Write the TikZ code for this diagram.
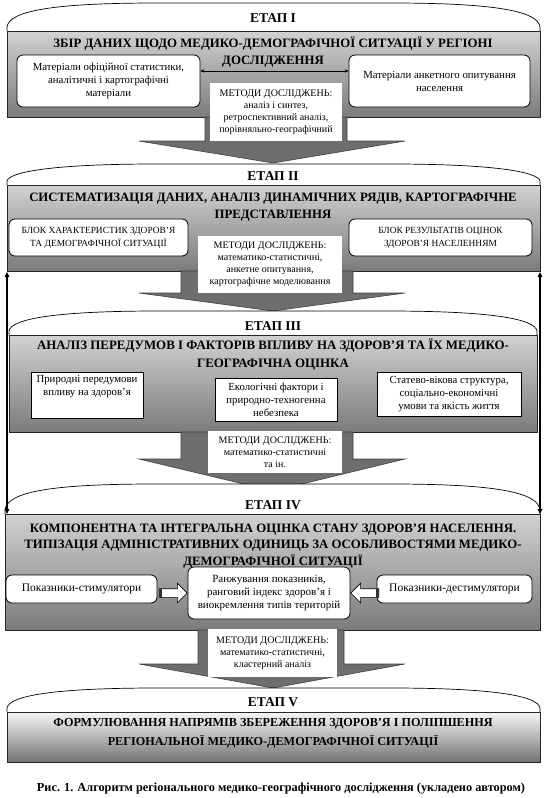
\documentclass[tikz,border=0pt]{standalone}
\usepackage{fontspec}
\setmainfont{Liberation Serif}
\usetikzlibrary{arrows.meta,shapes.arrows,calc}
\newcommand{\drawarch}[4]{\draw[archline] (#1,#4) -- (#1,#4-4) .. controls (#1+2,#3+8) and (#1+45,#3) .. (#1+150,#3) -- (#2-150,#3) .. controls (#2-45,#3) and (#2-2,#3+8) .. (#2,#4-4) -- (#2,#4);}
\begin{document}
\begin{tikzpicture}[x=1pt,y=-1pt, font=\rmfamily,
  archline/.style={draw=black, line width=0.7pt, fill=white},
  stagebox/.style={draw=black!85, line width=1pt, top color=black!18, bottom color=black!52, inner sep=0pt},
  etap/.style={font=\rmfamily\bfseries\fontsize{13.5}{14}\selectfont, inner sep=0pt},
  titletext/.style={font=\rmfamily\bfseries\fontsize{12.8}{17}\selectfont, align=center, inner sep=0pt},
  rbox/.style={draw=black, line width=0.8pt, fill=white, rounded corners=6pt, align=center, font=\rmfamily\fontsize{10.8}{13}\selectfont, inner sep=0pt},
  sbox/.style={draw=black, line width=0.6pt, fill=white, align=center, font=\rmfamily\fontsize{10.8}{13}\selectfont, inner sep=0pt},
  methbox/.style={fill=white, align=center, inner sep=0pt, font=\rmfamily\fontsize{10}{12}\selectfont},
  bigarrow/.style={fill=black!57, draw=black!75, line width=0.6pt},
  sidearrow/.style={draw=black, line width=1.2pt, {Triangle[length=5pt,width=4.5pt]}-{Triangle[length=5pt,width=4.5pt]}},
  thinarrow/.style={draw=black, line width=0.6pt, {Stealth[length=4pt,width=3.5pt]}-{Stealth[length=4pt,width=3.5pt]}},
  blockarrow/.style={single arrow, draw=black, line width=0.6pt, fill=white, minimum height=28pt, minimum width=19pt, single arrow head extend=5.5pt, inner xsep=0pt, inner ysep=4pt, text height=0pt, text depth=0pt, text width=0pt},
]
\useasboundingbox (0,0) rectangle (545,798);
\fill[white] (0,0) rectangle (545,798);

% ---------- STAGE I ----------
\drawarch{7}{540}{3}{31}
\node[etap] (e1) at (273,18) {ЕТАП І};
\node[stagebox, minimum width=533pt, minimum height=86pt, anchor=north west] (b1) at (7,31) {};
\node[titletext] (t1) at (273,52.5) {ЗБІР ДАНИХ ЩОДО МЕДИКО-ДЕМОГРАФІЧНОЇ СИТУАЦІЇ У РЕГІОНІ\\ДОСЛІДЖЕННЯ};
\node[rbox, minimum width=183pt, minimum height=52pt] (l1) at (108.5,81) {Матеріали офіційної статистики,\\аналітичні і картографічні\\матеріали};
\node[rbox, minimum width=181pt, minimum height=52pt] (r1) at (439.5,81) {Матеріали анкетного опитування\\населення};
\draw[thinarrow] ($(l1.east)+(0,-10)$) -- ($(r1.west)+(0,-10)$);
\draw[bigarrow] (205,117) -- (347,117) -- (347,141) -- (405,141) -- (273,163) -- (139,141) -- (205,141) -- cycle;
\node[methbox, minimum width=132pt, minimum height=58pt] (m1) at (276,112) {МЕТОДИ ДОСЛІДЖЕНЬ:\\аналіз і синтез,\\ретроспективний аналіз,\\порівняльно-географічний};

% ---------- STAGE II ----------
\drawarch{7}{540}{164}{185}
\node[etap] (e2) at (273,176) {ЕТАП ІІ};
\node[stagebox, minimum width=533pt, minimum height=86pt, anchor=north west] (b2) at (7,185) {};
\node[titletext] (t2) at (273,207.5) {СИСТЕМАТИЗАЦІЯ ДАНИХ, АНАЛІЗ ДИНАМІЧНИХ РЯДІВ, КАРТОГРАФІЧНЕ\\ПРЕДСТАВЛЕННЯ};
\node[rbox, font=\rmfamily\fontsize{9.4}{13}\selectfont, minimum width=179pt, minimum height=37pt] (l2) at (98.5,237.5) {БЛОК ХАРАКТЕРИСТИК ЗДОРОВ’Я\\ТА ДЕМОГРАФІЧНОЇ СИТУАЦІЇ};
\node[rbox, font=\rmfamily\fontsize{9.4}{13}\selectfont, minimum width=183pt, minimum height=37pt] (r2) at (440.5,237.5) {БЛОК РЕЗУЛЬТАТІВ ОЦІНОК\\ЗДОРОВ’Я НАСЕЛЕННЯМ};
\draw[bigarrow] (181,271) -- (353,271) -- (353,293) -- (405,293) -- (273,311) -- (139,293) -- (181,293) -- cycle;
\node[methbox, minimum width=144pt, minimum height=57pt] (m2) at (270,264.5) {МЕТОДИ ДОСЛІДЖЕНЬ:\\математико-статистичні,\\анкетне опитування,\\картографічне моделювання};

% ---------- STAGE III ----------
\drawarch{9}{537}{311}{335}
\node[etap] (e3) at (273,326) {ЕТАП ІІІ};
\node[stagebox, minimum width=528pt, minimum height=97pt, anchor=north west] (b3) at (9,335) {};
\node[titletext, font=\rmfamily\bfseries\fontsize{12.9}{18}\selectfont] (t3) at (273,355) {АНАЛІЗ ПЕРЕДУМОВ І ФАКТОРІВ ВПЛИВУ НА ЗДОРОВ’Я ТА ЇХ МЕДИКО-\\ГЕОГРАФІЧНА ОЦІНКА};
\node[sbox, minimum width=112pt, minimum height=46pt] (l3) at (87,395) {Природні передумови\\впливу на здоров’я\\[7pt]};
\node[sbox, minimum width=122pt, minimum height=43pt] (c3) at (276,399.5) {Екологічні фактори і\\природно-техногенна\\небезпека};
\node[sbox, minimum width=144pt, minimum height=44pt] (r3) at (449,394) {Статево-вікова структура,\\соціально-економічні\\умови та якість життя};
\draw[bigarrow] (181,432) -- (353,432) -- (353,459) -- (405,459) -- (273,491) -- (139,459) -- (181,459) -- cycle;
\node[methbox, minimum width=134pt, minimum height=42pt] (m3) at (275,452) {МЕТОДИ ДОСЛІДЖЕНЬ:\\математико-статистичні\\та ін.};

% ---------- STAGE IV ----------
\drawarch{5}{540}{484}{514}
\node[etap] (e4) at (273,505) {ЕТАП IV};
\node[stagebox, minimum width=535pt, minimum height=116pt, anchor=north west] (b4) at (5,514) {};
\node[titletext, font=\rmfamily\bfseries\fontsize{12.8}{16.5}\selectfont] (t4) at (273,546) {КОМПОНЕНТНА ТА ІНТЕГРАЛЬНА ОЦІНКА СТАНУ ЗДОРОВ’Я НАСЕЛЕННЯ.\\ТИПІЗАЦІЯ АДМІНІСТРАТИВНИХ ОДИНИЦЬ ЗА ОСОБЛИВОСТЯМИ МЕДИКО-\\ДЕМОГРАФІЧНОЇ СИТУАЦІЇ};
\node[rbox, font=\rmfamily\fontsize{11.5}{13}\selectfont, minimum width=151pt, minimum height=28pt] (l4) at (81.5,589) {Показники-стимулятори};
\node[rbox, font=\rmfamily\fontsize{11}{13}\selectfont, minimum width=162pt, minimum height=52pt] (c4) at (269,593) {Ранжування показників,\\ранговий індекс здоров’я і\\виокремлення типів територій};
\node[rbox, font=\rmfamily\fontsize{11.5}{13}\selectfont, minimum width=155pt, minimum height=28pt] (r4) at (454.5,589) {Показники-дестимулятори};
\node[blockarrow, anchor=tip] (la) at (c4.west) {};
\fill[black!80] ($(la.tail)+(0,-4.5)$) rectangle ($(la.tail)+(3.5,4.5)$);
\node[blockarrow, shape border rotate=180, anchor=tip] (ra) at (c4.east) {};
\fill[black!80] ($(ra.tail)+(0,-4.5)$) rectangle ($(ra.tail)+(-3.5,4.5)$);
\draw[bigarrow] (198,630) -- (344,630) -- (344,664) -- (405,664) -- (273,688) -- (139,664) -- (198,664) -- cycle;
\node[methbox, minimum width=129pt, minimum height=48pt] (m4) at (272.5,653) {МЕТОДИ ДОСЛІДЖЕНЬ:\\математико-статистичні,\\кластерний аналіз};

% ---------- STAGE V ----------
\drawarch{7}{540}{688}{712}
\node[etap] (e5) at (273,702) {ЕТАП V};
\node[stagebox, top color=black!4, bottom color=black!55, minimum width=533pt, minimum height=50pt, anchor=north west] (b5) at (7,712) {};
\node[titletext, font=\rmfamily\bfseries\fontsize{12.2}{19}\selectfont] (t5) at (273,733.5) {ФОРМУЛЮВАННЯ НАПРЯМІВ ЗБЕРЕЖЕННЯ ЗДОРОВ’Я І ПОЛІПШЕННЯ\\РЕГІОНАЛЬНОЇ МЕДИКО-ДЕМОГРАФІЧНОЇ СИТУАЦІЇ};

% ---------- side arrows ----------
\draw[sidearrow] (b2.south west) -- (b2.south west |- b4.north);
\draw[sidearrow] ([xshift=-1pt]b2.south east) -- ([xshift=-1pt]b2.south east |- b4.north);

% ---------- caption ----------
\node[font=\rmfamily\bfseries\fontsize{12.3}{13}\selectfont, inner sep=0pt] (cap) at (281,789) {Рис. 1. Алгоритм регіонального медико-географічного дослідження (укладено автором)};
\end{tikzpicture}
\end{document}
